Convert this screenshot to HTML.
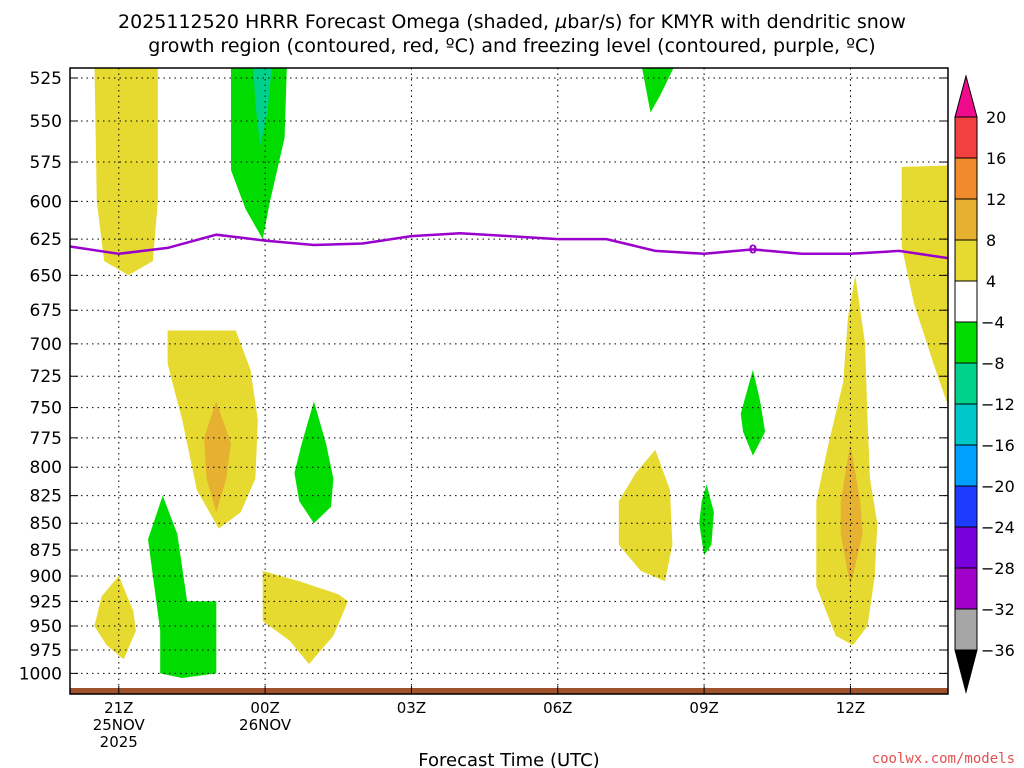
<!DOCTYPE html>
<html><head><meta charset="utf-8"><style>
body{margin:0;background:#fff;}
svg{display:block;font-family:"DejaVu Sans","Liberation Sans",sans-serif;}
</style></head><body>
<svg id="c" width="1024" height="768" viewBox="0 0 1024 768">
<text x="512" y="28" text-anchor="middle" font-size="19">2025112520 HRRR Forecast Omega (shaded, <tspan font-style="italic">µ</tspan>bar/s) for KMYR with dendritic snow</text>
<text x="512" y="52" text-anchor="middle" font-size="19">growth region (contoured, red, ºC) and freezing level (contoured, purple, ºC)</text>
<defs><clipPath id="pc"><rect x="70" y="68" width="878" height="626"/></clipPath></defs>
<g id="shapes" clip-path="url(#pc)"></g>
<g id="grid"></g>
<rect x="70" y="688" width="878" height="6" fill="#a0522d"/>
<path id="frz" fill="none" stroke="#9900cc" stroke-width="2.5" clip-path="url(#pc)"/>
<text id="frzlab" font-size="12" font-weight="bold" fill="#9900cc" text-anchor="middle">0</text>
<rect x="70" y="68" width="878" height="626" fill="none" stroke="#000" stroke-width="1.5"/>
<g id="yax"></g>
<g id="xax"></g>
<g id="cbar"></g>
<text x="509" y="766" text-anchor="middle" font-size="18">Forecast Time (UTC)</text>
<text x="1015" y="763" text-anchor="end" font-size="14" fill="#e05050" font-family="DejaVu Sans Mono,Liberation Mono,monospace">coolwx.com/models</text>
</svg>
<script>
const pTicks=[525,550,575,600,625,650,675,700,725,750,775,800,825,850,875,900,925,950,975,1000];
const xTickHours=[1,4,7,10,13,16];
const xTickLabels=[["21Z","25NOV","2025"],["00Z","26NOV"],["03Z"],["06Z"],["09Z"],["12Z"]];
const frzHours=[0,1,2,3,4,5,6,7,8,9,10,11,12,13,14,15,16,17,18];
const frzP=[630,635,631,622,626,629,628,623,621,623,625,625,633,635,632,635,635,633,638];
const cbLevels=[20,16,12,8,4,-4,-8,-12,-16,-20,-24,-28,-32,-36];
const cbColors=["#f04040","#f08a2a","#e6b030","#e6da30","#ffffff","#00dc00","#00d28c","#00c8c8","#00a0ff","#1e3cff","#7800dc","#a000c8","#a6a6a6"];
const blobs=[
 {c:"#e6da30",pts:[[0.5,515],[1.8,515],[1.8,600],[1.7,640],[1.2,650],[0.7,640],[0.55,600]]},
 {c:"#00dc00",pts:[[3.3,515],[4.45,515],[4.4,560],[4.1,600],[3.95,625],[3.6,605],[3.3,580]]},
 {c:"#00d28c",pts:[[3.75,515],[4.15,515],[4.05,545],[3.9,565],[3.8,540]]},
 {c:"#00dc00",pts:[[11.7,515],[12.45,515],[12.1,535],[11.9,545],[11.8,530]]},
 {c:"#e6da30",pts:[[17.05,578],[18.1,577],[18.1,760],[17.7,715],[17.3,670],[17.05,630]]},
 {c:"#e6da30",pts:[[2.0,690],[3.4,690],[3.7,720],[3.85,760],[3.8,810],[3.5,840],[3.05,855],[2.6,820],[2.3,760],[2.1,730],[2.0,715]]},
 {c:"#e6b030",pts:[[3.0,745],[3.3,780],[3.2,810],[3.0,840],[2.8,810],[2.75,775]]},
 {c:"#00dc00",pts:[[5.0,745],[5.25,780],[5.4,810],[5.35,835],[5.0,850],[4.7,830],[4.6,805],[4.75,780]]},
 {c:"#00dc00",pts:[[1.9,825],[2.2,860],[2.4,925],[3.0,925],[3.0,1000],[2.3,1005],[1.85,1000],[1.85,955],[1.7,900],[1.6,865]]},
 {c:"#e6da30",pts:[[1.0,900],[1.3,935],[1.35,955],[1.1,985],[0.75,970],[0.5,950],[0.65,920]]},
 {c:"#e6da30",pts:[[3.95,895],[4.7,905],[5.5,918],[5.7,925],[5.4,960],[4.9,990],[4.5,965],[3.95,945]]},
 {c:"#e6da30",pts:[[12.0,785],[12.3,820],[12.35,870],[12.2,905],[11.7,895],[11.25,870],[11.25,830],[11.6,805]]},
 {c:"#00dc00",pts:[[13.05,815],[13.2,840],[13.15,870],[13.0,880],[12.9,850],[12.95,830]]},
 {c:"#00dc00",pts:[[14.0,720],[14.15,745],[14.25,770],[14.0,790],[13.8,770],[13.75,755]]},
 {c:"#e6da30",pts:[[16.1,650],[16.3,700],[16.35,760],[16.4,810],[16.55,850],[16.5,900],[16.35,950],[16.05,970],[15.7,960],[15.3,910],[15.3,830],[15.55,780],[15.85,730],[15.95,680]]},
 {c:"#e6b030",pts:[[16.0,780],[16.2,830],[16.25,860],[16.0,910],[15.8,860],[15.8,830]]}
];
const NS="http://www.w3.org/2000/svg";
const X=h=>70+h*878/18;
const Y=p=>78+924*Math.log(p/525);
function mk(t,a,parent){const e=document.createElementNS(NS,t);for(const k in a)e.setAttribute(k,a[k]);parent.appendChild(e);return e;}
const sg=document.getElementById('shapes');
blobs.forEach((b,i)=>{
 const e=mk('polygon',{points:b.pts.map(q=>X(q[0]).toFixed(1)+','+Y(q[1]).toFixed(1)).join(' '),fill:b.c},sg);
 
 
});
const gg=document.getElementById('grid'),ya=document.getElementById('yax'),xa=document.getElementById('xax');
pTicks.forEach(p=>{
 const y=Y(p);
 const l=mk('line',{x1:70,x2:948,y1:y,y2:y,stroke:'#000','stroke-width':1,'stroke-dasharray':'1.5,4'},gg);
 
 
 mk('line',{x1:70,x2:78,y1:y,y2:y,stroke:'#000'},ya);
 mk('line',{x1:940,x2:948,y1:y,y2:y,stroke:'#000'},ya);
 const t=mk('text',{x:62,y:y+6,'text-anchor':'end','font-size':17},ya);
 t.textContent=p;
 
 
});
xTickHours.forEach((h,i)=>{
 const x=X(h);
 const l=mk('line',{x1:x,x2:x,y1:68,y2:694,stroke:'#000','stroke-width':1,'stroke-dasharray':'1.5,4'},gg);
 
 
 mk('line',{x1:x,x2:x,y1:686,y2:694,stroke:'#000'},xa);
 xTickLabels[i].forEach((s,j)=>{
  const t=mk('text',{x:x,y:713+j*17,'text-anchor':'middle','font-size':15},xa);
  t.textContent=s;
  
  
 });
});
document.getElementById('frz').setAttribute('d',frzHours.map((h,i)=>(i?'L':'M')+X(h).toFixed(1)+','+Y(frzP[i]).toFixed(1)).join(' '));
const fl=document.getElementById('frzlab');fl.setAttribute('x',X(14));fl.setAttribute('y',Y(frzP[14])+4);
const cb=document.getElementById('cbar');
const cx=955,cw=22,cbTop=117,step=41;
const up=mk('polygon',{points:`${cx},${cbTop} ${cx+cw},${cbTop} ${cx+cw/2},76`,fill:'#f00a8c',stroke:'#000'},cb);


cbColors.forEach((c,i)=>{
 const r=mk('rect',{x:cx,y:cbTop+i*step,width:cw,height:step,fill:c,stroke:'#000','stroke-width':1},cb);
 
 
});
const bot=cbTop+cbColors.length*step;
const dn=mk('polygon',{points:`${cx},${bot} ${cx+cw},${bot} ${cx+cw/2},692`,fill:'#000',stroke:'#000'},cb);


cbLevels.forEach((v,i)=>{
 const t=mk('text',{x:v<0?981:986,y:cbTop+i*step+6,'font-size':16},cb);
 t.textContent=v<0?'\u2212'+(-v):String(v);
 
 
});
</script>
</body></html>
